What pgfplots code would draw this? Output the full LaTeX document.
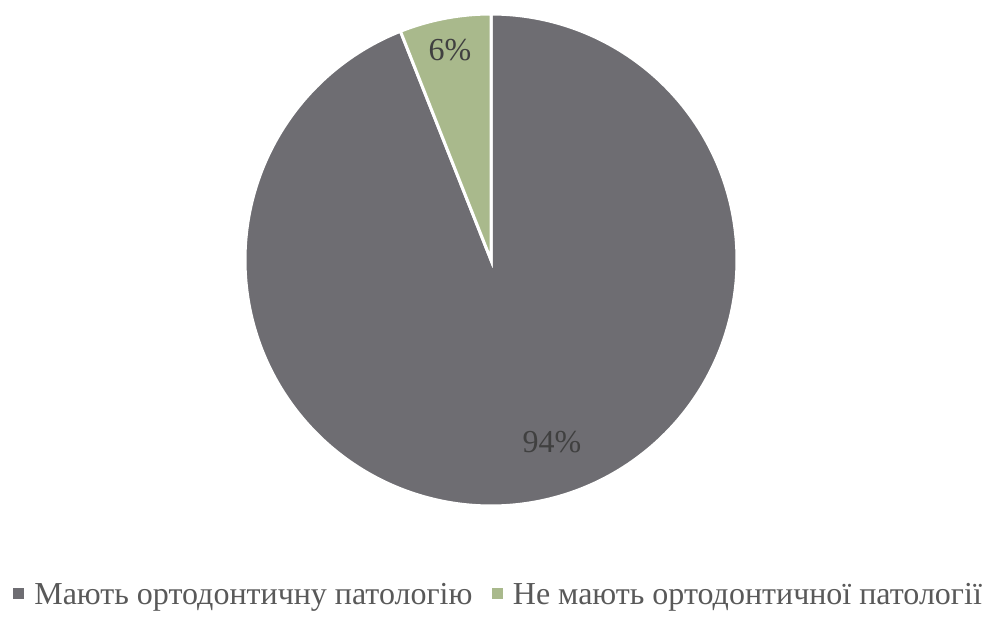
\documentclass[border=0pt]{standalone}
\usepackage{pgfplots}
\pgfplotsset{compat=1.18}
\usepackage{fontspec}
\setmainfont{Liberation Serif}
\definecolor{pgray}{RGB}{110,109,114}
\definecolor{pgreen}{RGB}{169,185,140}
\definecolor{lbl}{RGB}{64,64,64}
\definecolor{leg}{RGB}{89,89,89}
% values (percent)
\def\valA{94}
\def\valB{6}
\begin{document}
\begin{tikzpicture}
\path[use as bounding box] (0,0) rectangle (990bp,617bp);
\pgfmathsetmacro{\angB}{90+3.6*\valB}
\begin{axis}[
  at={(491bp,357bp)}, anchor=center,
  scale only axis, width=492bp, height=492bp,
  xmin=-1, xmax=1, ymin=-1, ymax=1,
  hide axis, clip=false,
  legend columns=2,
  legend style={at={(0.513,-0.18)}, anchor=center, draw=none, fill=none,
    font=\fontsize{32bp}{38bp}\selectfont, text=leg,
    nodes={inner xsep=0pt},
    /tikz/every even column/.append style={column sep=19bp}},
]
\addplot[fill=pgray, draw=white, line width=3bp, domain=\angB:450, samples=300, forget plot]
  ({cos(x)},{sin(x)}) -- (axis cs:0,0) -- cycle;
\addplot[fill=pgreen, draw=white, line width=3bp, domain=90:\angB, samples=40, forget plot]
  ({cos(x)},{sin(x)}) -- (axis cs:0,0) -- cycle;
\node[text=lbl, font=\fontsize{32bp}{38bp}\selectfont] at (axis cs:-0.167,0.854) {6\%};
\node[text=lbl, font=\fontsize{32bp}{38bp}\selectfont] at (axis cs:0.248,-0.74) {94\%};
\addlegendimage{legend image code/.code={\fill[pgray] (0bp,-4bp) rectangle (10bp,6bp); \path (21bp,0);}}
\addlegendentry{Мають ортодонтичну патологію}
\addlegendimage{legend image code/.code={\fill[pgreen] (0bp,-4bp) rectangle (10bp,6bp); \path (21bp,0);}}
\addlegendentry{Не мають ортодонтичної патології}
\end{axis}
\end{tikzpicture}
\end{document}
